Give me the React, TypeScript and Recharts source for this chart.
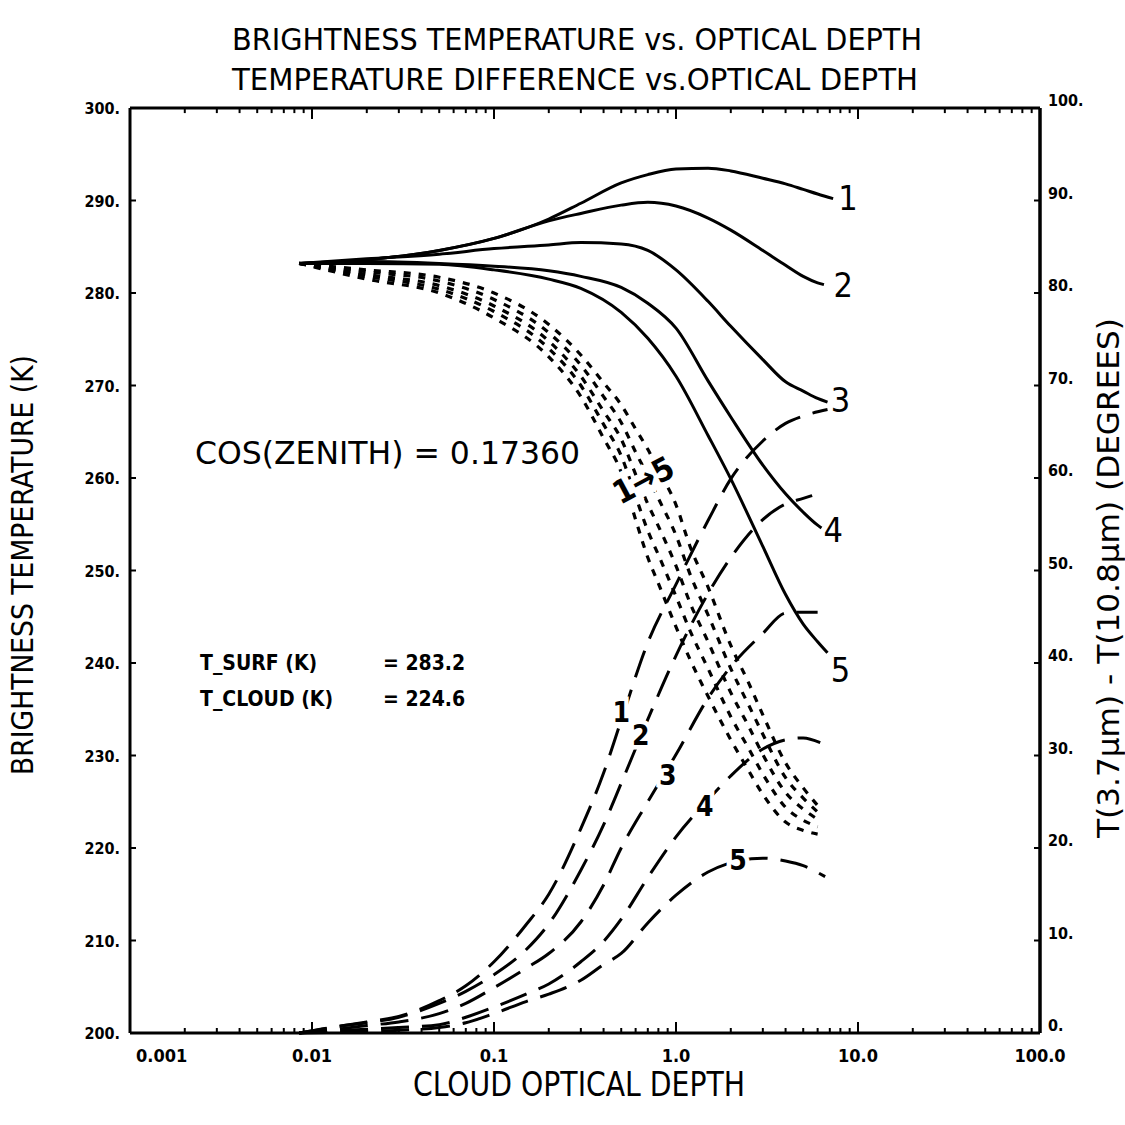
import React from "react";
import { LineChart, Line, XAxis, YAxis, ReferenceDot, ReferenceLine } from "recharts";

const INK = "#000";
const FONT = "'Liberation Sans Narrow', 'DejaVu Sans Condensed', 'DejaVu Sans', sans-serif";

// axes
const X_MAJOR = [0.001, 0.01, 0.1, 1, 10, 100];
const X_MAJOR_LABELS = ["0.001", "0.01", "0.1", "1.0", "10.0", "100.0"];
const X_MINOR = X_MAJOR.slice(0, -1).flatMap((d) =>
  [2, 3, 4, 5, 6, 7, 8, 9].map((m) => +(d * m).toPrecision(3))
);
const X_TICKS = [...X_MAJOR, ...X_MINOR].sort((a, b) => a - b);
const T_TICKS = [200, 210, 220, 230, 240, 250, 260, 270, 280, 290, 300];
const D_TICKS = [0, 10, 20, 30, 40, 50, 60, 70, 80, 90, 100];

// brightness temperature at 3.7um (solid), left axis, K
const SOLID_TAU = [0.0085, 0.02, 0.05, 0.1, 0.2, 0.3, 0.5, 0.7, 1, 1.5, 2, 3, 4, 5, 6];
const SOLID_1 = [283.2, 283.6, 284.6, 285.9, 288.0, 289.7, 291.9, 292.8, 293.4, 293.5, 293.2, 292.4, 291.8, 291.2, 290.7];
const SOLID_2 = [283.2, 283.6, 284.6, 285.9, 287.8, 288.6, 289.5, 289.8, 289.4, 288.1, 286.8, 284.6, 283.0, 281.8, 281.1];
const SOLID_3 = [283.2, 283.7, 284.2, 284.8, 285.2, 285.45, 285.3, 284.6, 282.5, 279.1, 276.4, 272.8, 270.4, 269.4, 268.6];
const SOLID_4 = [283.2, 283.4, 283.2, 282.9, 282.4, 281.8, 280.6, 278.9, 276.2, 270.5, 266.6, 261.4, 258.3, 256.3, 254.9];
const SOLID_5 = [283.2, 283.2, 283.1, 282.5, 281.5, 280.5, 277.9, 275.1, 271.0, 264.6, 259.9, 252.6, 247.4, 244.2, 242.3];
const SOLID_END_TAU = [7.3, 6.5, 6.8, 6.3, 6.8];
const SOLID_END_T = [290.2, 280.9, 268.2, 254.6, 241.1];

// brightness temperature at 10.8um (short dashes), left axis, K
const DOT_TAU = [0.0085, 0.02, 0.05, 0.1, 0.2, 0.3, 0.4, 0.5, 0.6, 0.7, 0.8, 1, 1.2, 1.5, 2, 2.5, 3, 4, 5, 6];
const DOT_1 = [283.2, 281.5, 280.0, 277.3, 273.1, 268.8, 264.3, 260.6, 255.5, 251.4, 248.6, 243.9, 240.3, 236.4, 231.7, 228.4, 225.8, 222.8, 221.9, 221.5];
const DOT_2 = [283.2, 281.8, 280.4, 278.0, 274.0, 270.0, 265.8, 262.4, 258.0, 254.3, 251.7, 247.2, 243.4, 239.4, 234.2, 230.8, 228.0, 224.4, 223.0, 222.3];
const DOT_3 = [283.2, 282.0, 280.8, 278.6, 274.8, 271.0, 267.2, 264.2, 260.4, 257.2, 254.8, 250.5, 246.4, 242.3, 236.8, 233.2, 230.1, 226.0, 224.2, 223.1];
const DOT_4 = [283.2, 282.3, 281.3, 279.3, 275.7, 272.2, 268.8, 266.0, 262.8, 260.2, 257.8, 253.8, 249.5, 245.2, 239.4, 235.5, 232.3, 227.6, 225.4, 223.9];
const DOT_5 = [283.2, 282.5, 281.7, 280.0, 276.6, 273.3, 270.3, 267.9, 265.3, 263.1, 260.9, 257.1, 252.5, 248.2, 241.9, 237.9, 234.4, 229.2, 226.5, 224.6];

// T(3.7um) - T(10.8um) (long dashes), right axis, degrees
const DIFF_TAU = [0.0085, 0.015, 0.02, 0.03, 0.05, 0.07, 0.1, 0.15, 0.2, 0.3, 0.4, 0.5, 0.7, 1, 1.5, 2, 3, 4, 5];
const DIFF_1 = [0, 0.8, 1.2, 1.8, 3.5, 5.1, 7.7, 11.7, 15.0, 22.1, 28.1, 33.8, 42.2, 48.5, 55.4, 59.9, 64.0, 65.9, 66.7];
const DIFF_2 = [0, 0.8, 1.1, 1.7, 3.2, 4.5, 6.3, 9.0, 11.8, 17.6, 22.5, 27.0, 33.9, 40.8, 47.5, 51.4, 55.5, 57.2, 57.8];
const DIFF_3 = [0, 0.5, 0.8, 1.2, 2.1, 3.2, 4.9, 7.0, 8.6, 12.0, 16.0, 20.0, 25.0, 30.1, 36.2, 39.6, 43.2, 45.4, 45.5];
const DIFF_4 = [0, 0.3, 0.4, 0.6, 0.9, 1.7, 2.8, 4.2, 5.3, 7.7, 9.9, 12.3, 16.8, 21.2, 25.2, 27.8, 30.7, 31.7, 31.9];
const DIFF_5 = [0, 0.1, 0.2, 0.3, 0.6, 1.1, 2.1, 3.4, 4.2, 5.7, 7.4, 8.6, 11.9, 14.9, 17.4, 18.4, 18.9, 18.6, 18.1];
const DIFF_END_TAU = [6.8, 5.6, 6.0, 6.2, 6.6];
const DIFF_END_VAL = [67.4, 58.1, 45.5, 31.4, 16.9];

const CURVE_NAMES = ["1", "2", "3", "4", "5"];

// label anchors in data units [tau, value]
const SOLID_LABEL_AT = [[8.8, 290.3], [8.3, 280.9], [8.0, 268.4], [7.3, 254.4], [8.0, 239.2]];
const DIFF_LABEL_AT = [[0.5, 34.7], [0.64, 32.2], [0.9, 27.9], [1.44, 24.5], [2.19, 18.7]];
const DOT_LABEL_AT = [0.66, 259.8];

const toSeries = (taus: number[], vals: number[], endTau?: number, endVal?: number) => {
  const rows = taus.map((tau, i) => ({ tau, v: vals[i] }));
  if (endTau !== undefined && endVal !== undefined) rows.push({ tau: endTau, v: endVal });
  return rows;
};

const solidSeries = [SOLID_1, SOLID_2, SOLID_3, SOLID_4, SOLID_5].map((s, i) =>
  toSeries(SOLID_TAU, s, SOLID_END_TAU[i], SOLID_END_T[i])
);
const dotSeries = [DOT_1, DOT_2, DOT_3, DOT_4, DOT_5].map((s) => toSeries(DOT_TAU, s));
const diffSeries = [DIFF_1, DIFF_2, DIFF_3, DIFF_4, DIFF_5].map((s, i) =>
  toSeries(DIFF_TAU, s, DIFF_END_TAU[i], DIFF_END_VAL[i])
);

function BottomTick({ x, y, payload }: any) {
  const i = X_MAJOR.indexOf(payload.value);
  // the first label sits just right of the corner, as in the plot
  const first = i === 0;
  return (
    <g>
      <line x1={x} x2={x} y1={y} y2={y - (i >= 0 ? 11 : 5)} stroke={INK} strokeWidth={2} />
      {i >= 0 && (
        <text
          x={first ? x + 6 : x}
          y={y + 29}
          textAnchor={first ? "start" : "middle"}
          fontFamily={FONT}
          fontWeight="bold"
          fontSize={18}
          fill={INK}
        >
          {X_MAJOR_LABELS[i]}
        </text>
      )}
    </g>
  );
}

function LeftTick({ x, y, payload }: any) {
  return (
    <g>
      <line x1={x} x2={x + 6} y1={y} y2={y} stroke={INK} strokeWidth={2} />
      <text x={x - 10} y={y + 6} textAnchor="end" fontFamily={FONT} fontWeight="bold" fontSize={16} fill={INK}>
        {payload.value}.
      </text>
    </g>
  );
}

function RightTick({ x, y, payload }: any) {
  return (
    <g>
      <line x1={x} x2={x - 6} y1={y} y2={y} stroke={INK} strokeWidth={2} />
      <text x={x + 8} y={y - 2} textAnchor="start" fontFamily={FONT} fontWeight="bold" fontSize={16} fill={INK}>
        {payload.value}.
      </text>
    </g>
  );
}

const axisLine = { stroke: INK, strokeWidth: 3 };
const halo = { stroke: "#fff", strokeWidth: 9, paintOrder: "stroke" };

export default function App() {
  return (
    <div style={{ position: "absolute", left: 0, top: 0, width: 1125, height: 1125, background: "#fff" }}>
      <LineChart width={1125} height={1125} margin={{ top: 108, right: 0, bottom: 0, left: 0 }}>
        <XAxis
          xAxisId="x"
          dataKey="tau"
          type="number"
          scale="log"
          domain={[0.001, 100]}
          allowDataOverflow
          ticks={X_TICKS}
          interval={0}
          height={92}
          tickSize={0}
          tickMargin={0}
          tickLine={false}
          axisLine={axisLine}
          tick={<BottomTick />}
        />
        <YAxis
          yAxisId="t"
          type="number"
          domain={[200, 300]}
          ticks={T_TICKS}
          interval={0}
          width={130}
          tickSize={0}
          tickMargin={0}
          tickLine={false}
          axisLine={axisLine}
          tick={<LeftTick />}
        />
        <YAxis
          yAxisId="d"
          orientation="right"
          type="number"
          domain={[0, 100]}
          ticks={D_TICKS}
          interval={0}
          width={85}
          tickSize={0}
          tickMargin={0}
          tickLine={false}
          axisLine={axisLine}
          tick={<RightTick />}
        />

        {/* frame: top and right edges, with the top edge's log ticks */}
        <ReferenceLine xAxisId="x" yAxisId="t" y={300} stroke={INK} strokeWidth={3} />
        <ReferenceLine xAxisId="x" yAxisId="t" x={100} stroke={INK} strokeWidth={3} />
        {X_TICKS.map((t) => (
          <ReferenceLine
            key={`tt${t}`}
            xAxisId="x"
            yAxisId="t"
            segment={[
              { x: t, y: 300 },
              { x: t, y: X_MAJOR.includes(t) ? 298.8 : 299.45 },
            ]}
            stroke={INK}
            strokeWidth={2}
          />
        ))}

        {solidSeries.map((data, i) => (
          <Line
            key={`s${i}`}
            xAxisId="x"
            yAxisId="t"
            data={data}
            dataKey="v"
            type="monotone"
            stroke={INK}
            strokeWidth={3}
            dot={false}
            activeDot={false}
            isAnimationActive={false}
          />
        ))}
        {dotSeries.map((data, i) => (
          <Line
            key={`p${i}`}
            xAxisId="x"
            yAxisId="t"
            data={data}
            dataKey="v"
            type="monotone"
            stroke={INK}
            strokeWidth={3.2}
            strokeDasharray="7 8"
            dot={false}
            activeDot={false}
            isAnimationActive={false}
          />
        ))}
        {diffSeries.map((data, i) => (
          <Line
            key={`d${i}`}
            xAxisId="x"
            yAxisId="d"
            data={data}
            dataKey="v"
            type="monotone"
            stroke={INK}
            strokeWidth={3}
            strokeDasharray="28 13"
            dot={false}
            activeDot={false}
            isAnimationActive={false}
          />
        ))}

        {SOLID_LABEL_AT.map(([tau, t], i) => (
          <ReferenceDot
            key={`sl${i}`}
            xAxisId="x"
            yAxisId="t"
            x={tau}
            y={t}
            r={0}
            stroke="none"
            label={{ value: CURVE_NAMES[i], position: "center", fontSize: 34, fontFamily: FONT, fill: INK }}
          />
        ))}
        {DIFF_LABEL_AT.map(([tau, d], i) => (
          <ReferenceDot
            key={`dl${i}`}
            xAxisId="x"
            yAxisId="d"
            x={tau}
            y={d}
            r={0}
            stroke="none"
            label={{
              value: CURVE_NAMES[i],
              position: "center",
              fontSize: 28,
              fontWeight: "bold",
              fontFamily: FONT,
              fill: INK,
              ...halo,
            }}
          />
        ))}
        <ReferenceDot
          xAxisId="x"
          yAxisId="t"
          x={DOT_LABEL_AT[0]}
          y={DOT_LABEL_AT[1]}
          r={0}
          stroke="none"
          label={{
            value: "1→5",
            position: "center",
            angle: -28,
            fontSize: 32,
            fontWeight: "bold",
            fontFamily: FONT,
            fill: INK,
            ...halo,
            strokeWidth: 12,
          }}
        />
      </LineChart>

      <svg width={1125} height={1125} style={{ position: "absolute", left: 0, top: 0, pointerEvents: "none" }}>
        <g fontFamily={FONT} fill={INK}>
          <text x={577} y={50} textAnchor="middle" fontSize={31} textLength={690} lengthAdjust="spacingAndGlyphs">
            BRIGHTNESS TEMPERATURE vs. OPTICAL DEPTH
          </text>
          <text x={575} y={90} textAnchor="middle" fontSize={31} textLength={686} lengthAdjust="spacingAndGlyphs">
            TEMPERATURE DIFFERENCE vs.OPTICAL DEPTH
          </text>
          <text x={579} y={1096} textAnchor="middle" fontSize={33} textLength={332} lengthAdjust="spacingAndGlyphs">
            CLOUD OPTICAL DEPTH
          </text>
          <text
            transform="translate(33,565) rotate(-90)"
            textAnchor="middle"
            fontSize={30}
            textLength={420}
            lengthAdjust="spacingAndGlyphs"
          >
            BRIGHTNESS TEMPERATURE (K)
          </text>
          <text
            transform="translate(1119,578) rotate(-90)"
            textAnchor="middle"
            fontSize={30}
            textLength={520}
            lengthAdjust="spacingAndGlyphs"
          >
            T(3.7µm) - T(10.8µm) (DEGREES)
          </text>
          <text x={195} y={464} fontSize={32} textLength={385} lengthAdjust="spacingAndGlyphs">
            COS(ZENITH) = 0.17360
          </text>
          <text x={200} y={670} fontSize={21} fontWeight="bold">T_SURF (K)</text>
          <text x={383} y={670} fontSize={21} fontWeight="bold">= 283.2</text>
          <text x={200} y={706} fontSize={21} fontWeight="bold">T_CLOUD (K)</text>
          <text x={383} y={706} fontSize={21} fontWeight="bold">= 224.6</text>
        </g>
      </svg>
    </div>
  );
}
